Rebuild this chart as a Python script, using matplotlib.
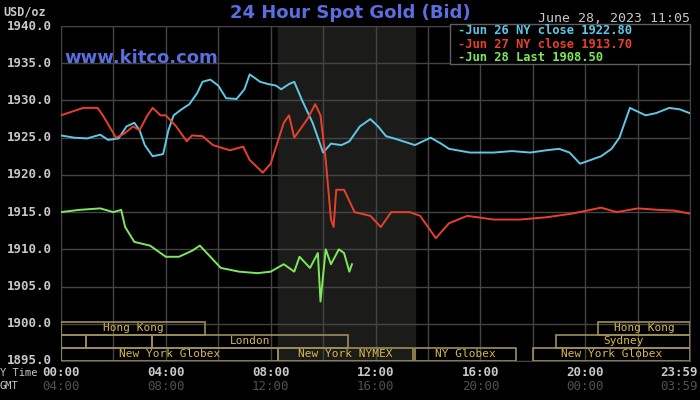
import matplotlib
matplotlib.use("Agg")
import matplotlib.pyplot as plt
from matplotlib.patches import Rectangle

# hours since 00:00 NY time, price in USD/oz
blue_h = [0, 0.5, 1.0, 1.5, 1.8, 2.2, 2.5, 2.8, 3.0, 3.2, 3.5, 3.9, 4.1, 4.3, 4.6, 4.9, 5.2, 5.4, 5.7, 6.0, 6.3, 6.7, 7.0, 7.2, 7.6, 7.9, 8.2, 8.4, 8.7, 8.9, 9.2, 9.6, 10.0, 10.3, 10.7, 11.0, 11.4, 11.8, 12.1, 12.4, 12.8, 13.5, 14.1, 14.5, 14.8, 15.6, 16.5, 17.2, 17.9, 18.5, 19.0, 19.4, 19.8, 20.2, 20.6, 21.0, 21.3, 21.7, 22.0, 22.3, 22.7, 23.2, 23.6, 23.98]
blue_v = [1925.3, 1925.0, 1924.9, 1925.4, 1924.7, 1924.9, 1926.5, 1927.0, 1926.0, 1924.0, 1922.5, 1922.8, 1926.0, 1928.0, 1928.8, 1929.5, 1931.0, 1932.5, 1932.8, 1932.0, 1930.3, 1930.2, 1931.5, 1933.5, 1932.5, 1932.2, 1932.0, 1931.5, 1932.2, 1932.5, 1930.0, 1927.0, 1923.0, 1924.2, 1924.0, 1924.5, 1926.5, 1927.5, 1926.5, 1925.2, 1924.8, 1924.0, 1925.0, 1924.2, 1923.5, 1923.0, 1923.0, 1923.2, 1923.0, 1923.3, 1923.5, 1923.0, 1921.5, 1922.0, 1922.5, 1923.5, 1925.0, 1929.0, 1928.5, 1928.0, 1928.3, 1929.0, 1928.8, 1928.3]

red_h = [0, 0.85, 1.4, 1.6, 2.1, 2.4, 2.75, 3.0, 3.3, 3.5, 3.8, 4.0, 4.4, 4.8, 5.0, 5.4, 5.8, 6.45, 6.95, 7.2, 7.7, 8.0, 8.5, 8.7, 8.9, 9.4, 9.7, 9.9, 10.1, 10.3, 10.4, 10.5, 10.8, 11.2, 11.8, 12.2, 12.6, 13.3, 13.7, 14.3, 14.8, 15.5, 16.5, 17.5, 18.5, 19.5, 20.6, 21.2, 22.0, 22.8, 23.4, 23.98]
red_v = [1928.0, 1929.0, 1929.0, 1928.0, 1925.0, 1925.5, 1926.5, 1926.0, 1928.0, 1929.0, 1928.0, 1928.0, 1926.5, 1924.5, 1925.3, 1925.2, 1924.0, 1923.3, 1923.8, 1922.0, 1920.3, 1921.5, 1927.0, 1928.0, 1925.0, 1927.5, 1929.5, 1928.0, 1922.0, 1914.0, 1913.0, 1918.0, 1918.0, 1915.0, 1914.5, 1913.0, 1915.0, 1915.0, 1914.5, 1911.5, 1913.5, 1914.5, 1914.0, 1914.0, 1914.3, 1914.8, 1915.6, 1915.0, 1915.5, 1915.3, 1915.2, 1914.8]

green_h = [0, 0.7, 1.5, 2.0, 2.3, 2.45, 2.8, 3.4, 4.0, 4.5, 5.0, 5.3, 5.7, 6.1, 6.8, 7.5, 8.0, 8.5, 8.9, 9.1, 9.5, 9.8, 9.9, 10.1, 10.3, 10.6, 10.8, 11.0, 11.1]
green_v = [1915.0, 1915.3, 1915.5, 1915.0, 1915.3, 1913.0, 1911.0, 1910.5, 1909.0, 1909.0, 1909.8, 1910.5, 1909.0, 1907.5, 1907.0, 1906.8, 1907.0, 1908.0, 1907.0, 1909.0, 1907.5, 1909.5, 1903.0, 1910.0, 1908.0, 1910.0, 1909.5, 1907.0, 1908.0]

tick_hours = [0, 4, 8, 12, 16, 20, 23.98]
ny_labels = ["00:00", "04:00", "08:00", "12:00", "16:00", "20:00", "23:59"]
gmt_labels = ["04:00", "08:00", "12:00", "16:00", "20:00", "00:00", "03:59"]
y_ticks = [1895, 1900, 1905, 1910, 1915, 1920, 1925, 1930, 1935, 1940]

sessions = [
    (2, 0, 5.5, "Hong Kong"), (2, 20.5, 24, "Hong Kong"),
    (1, 0, 0.95, ""), (1, 0.95, 3.47, ""), (1, 3.47, 10.95, "London"), (1, 18.9, 24, "Sydney"),
    (0, 0, 8.28, "New York Globex"), (0, 8.28, 13.43, "New York NYMEX"),
    (0, 13.5, 17.37, "NY Globex"), (0, 18.0, 24, "New York Globex"),
]
row_y = [(1895.0, 1896.75), (1896.75, 1898.5), (1898.5, 1900.25)]

mono = "DejaVu Sans Mono"
fig = plt.figure(figsize=(7, 4), dpi=100, facecolor="black")
ax = fig.add_axes([0.087, 0.0975, 0.899, 0.8375], facecolor="black")
ax.set_xlim(0, 24)
ax.set_ylim(1895, 1940)
ax.axvspan(8.28, 13.5, color="#1b1b19", zorder=0)
for h in range(0, 25, 2):
    ax.axvline(h, color="#444444", lw=1, zorder=1)
for y in y_ticks:
    ax.axhline(y, color="#444444", lw=1, zorder=1)
for s in ax.spines.values():
    s.set_color("#444444")
ax.set_xticks([]); ax.set_yticks([])
for y in y_ticks:
    ax.text(-0.35, y, f"{y:.1f}", ha="right", va="center", color="#c8c8c8",
            family=mono, fontweight="bold", fontsize=9)

ax.plot(blue_h, blue_v, color="#5ec8e8", lw=1.4, zorder=3)
ax.plot(red_h, red_v, color="#e8402c", lw=1.4, zorder=3)
ax.plot(green_h, green_v, color="#7ee85a", lw=1.4, zorder=3)

for row, a, b, lab in sessions:
    y0, y1 = row_y[row]
    ax.add_patch(Rectangle((a, y0), b - a, y1 - y0, fill=False, ec="#9c8f5a", lw=1.2, zorder=4))
    if lab:
        ax.text((a + b) / 2, (y0 + y1) / 2, lab, ha="center", va="center",
                color="#d8b84a", family=mono, fontsize=8, zorder=5)

for i, (h, nl, gl) in enumerate(zip(tick_hours, ny_labels, gmt_labels)):
    x = fig.transFigure.inverted().transform(ax.transData.transform((h, 1895)))[0]
    ha = "center"
    if i == len(tick_hours) - 1:
        x, ha = 0.997, "right"
    fig.text(x, 0.068, nl, ha=ha, va="center", color="#c8c8c8", family=mono, fontweight="bold", fontsize=9)
    fig.text(x, 0.035, gl, ha=ha, va="center", color="#505050", family=mono, fontsize=9)
fig.text(0.0, 0.068, "Y Time", ha="left", va="center", color="#c8c8c8", family=mono, fontsize=7.5)
fig.text(0.0, 0.035, "GMT", ha="left", va="center", color="#c8c8c8", family=mono, fontsize=7.5)

fig.text(0.005, 0.97, "USD/oz", ha="left", va="center", color="#c8c8c8", family=mono, fontweight="bold", fontsize=8.5)
fig.text(0.5, 0.968, "24 Hour Spot Gold (Bid)", ha="center", va="center", color="#5a6ee0", fontweight="bold", fontsize=13)
ax.text(0.005, 0.905, "www.kitco.com", transform=ax.transAxes, ha="left", va="center",
        color="#5a6ee0", fontweight="bold", fontsize=13)
fig.text(0.985, 0.955, "June 28, 2023 11:05", ha="right", va="center", color="#c8c8c8", family=mono, fontsize=9.5)

lx0, ly0, lx1, ly1 = 0.643, 0.84, 0.986, 0.94
fig.patches.append(Rectangle((lx0, ly0), lx1 - lx0, ly1 - ly0, transform=fig.transFigure,
                             fill=True, fc="black", ec="#606060", lw=1, zorder=10))
leg = [("-Jun 26 NY close 1922.80", "#5ec8e8"), ("-Jun 27 NY close 1913.70", "#e8402c"), ("-Jun 28 Last 1908.50", "#7ee85a")]
for i, (t, c) in enumerate(leg):
    fig.text(0.655, 0.923 - i * 0.0335, t, ha="left", va="center", color=c, family=mono,
             fontsize=8.7, fontweight="bold", zorder=11)

fig.savefig("out.png", dpi=100, facecolor="black")
